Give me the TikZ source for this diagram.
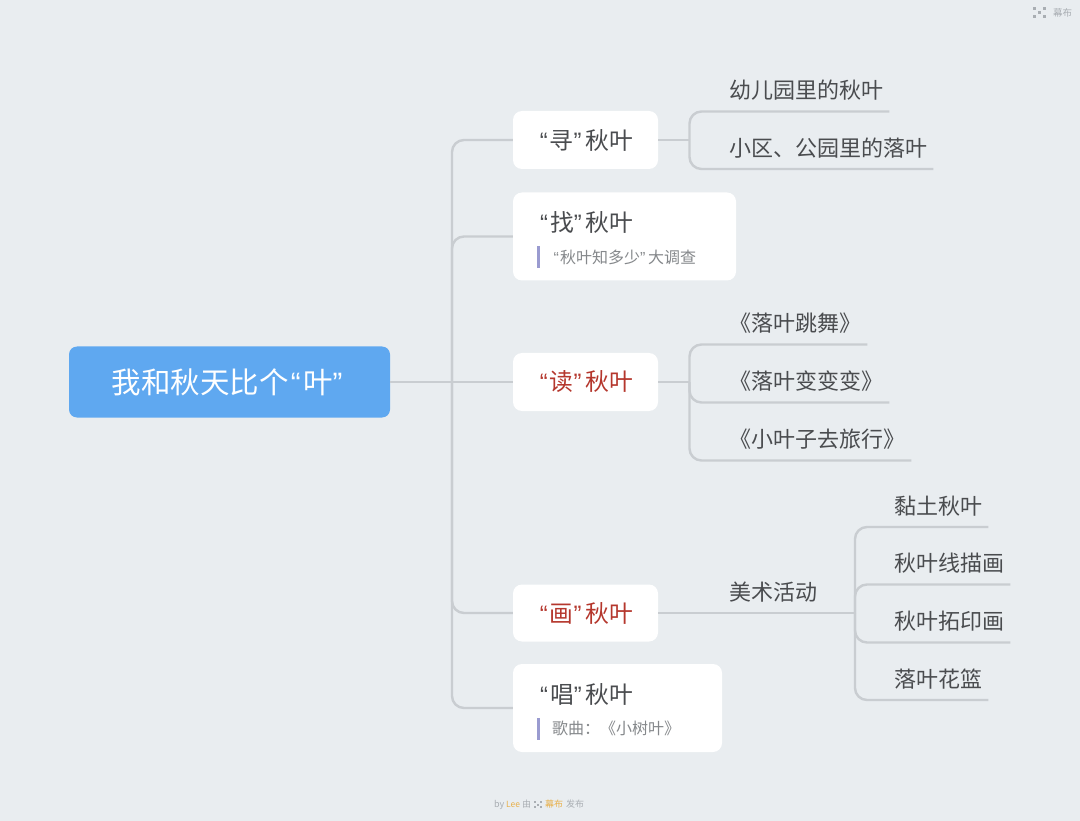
\documentclass[tikz,border=0pt]{standalone}
\usepackage{fontspec}
\setmainfont{Noto Sans CJK SC}
\newfontfamily\mquote{Liberation Sans}
\newcommand{\ml}{\makebox[.5em][c]{\mquote “}}
\newcommand{\mr}{\makebox[.5em][l]{\mquote ”}}
\definecolor{mbg}{HTML}{E9EDF0}
\definecolor{mline}{HTML}{C9CDD1}
\definecolor{mblue}{HTML}{5FA8F0}
\definecolor{mdark}{HTML}{4A4C4F}
\definecolor{mgray}{HTML}{85888B}
\definecolor{mred}{HTML}{B5372D}
\definecolor{mbar}{HTML}{9A9BD0}
\definecolor{mmark}{HTML}{A9AEB3}
\definecolor{mgold}{HTML}{E8B04A}
\begin{document}
\begin{tikzpicture}[x=1pt,y=-1pt,
    link/.style={draw=mline,line width=2.4pt,rounded corners=12pt},
    mroot/.style={fill=mblue,draw=none,rounded corners=8pt,minimum width=321pt,minimum height=71pt,text=white,font=\fontsize{29.5}{34}\selectfont,inner sep=0pt},
    mbox/.style={fill=white,rounded corners=9pt,inner sep=0pt,text=mdark,font=\fontsize{23.8}{28}\selectfont},
    mtitle/.style={anchor=west,inner sep=0pt,text=mdark,font=\fontsize{23.8}{28}\selectfont},
    mnote/.style={anchor=west,inner sep=0pt,text=mgray,font=\fontsize{16}{20}\selectfont},
    mbarnode/.style={fill=mbar,inner sep=0pt,minimum width=3pt,minimum height=22pt},
    mleaf/.style={anchor=south west,inner ysep=11pt,inner xsep=6pt,text=mdark,font=\fontsize{22}{26}\selectfont},
    mmarktext/.style={inner sep=0pt,text=mmark,font=\fontsize{9}{11}\selectfont}]
    \useasboundingbox[fill=mbg] (0,0) rectangle (1080,821);
    % junctions
    \coordinate (jtrunk) at (452,382);
    \coordinate (jxun) at (689.5,140);
    \coordinate (jdu) at (689.5,382);
    \coordinate (jmei) at (855,613);
    % boxes
    \node[mroot] (root) at (229.5,382) {我和秋天比个\ml 叶\mr};
    \node[mbox,minimum width=145pt,minimum height=58pt] (xun) at (585.5,140) {\ml 寻\mr 秋叶};
    \node[mbox,minimum width=223pt,minimum height=88pt] (zhao) at (624.5,236.5) {};
    \node[mbox,minimum width=145pt,minimum height=58pt,text=mred] (du) at (585.5,382) {\ml 读\mr 秋叶};
    \node[mbox,minimum width=145pt,minimum height=57pt,text=mred] (hua) at (585.5,613) {\ml 画\mr 秋叶};
    \node[mbox,minimum width=209pt,minimum height=88pt] (chang) at (617.5,708) {};
    \node[mtitle] (zhaot) at (538,222) {\ml 找\mr 秋叶};
    \node[mtitle] (changt) at (538,694) {\ml 唱\mr 秋叶};
    \node[mbarnode] (zhaob) at (538,257) {};
    \node[mbarnode] (changb) at (538,728.5) {};
    \node[mnote] (zhaon) at (552,257) {\ml 秋叶知多少\mr 大调查};
    \node[mnote] (changn) at (552,728.5) {歌曲：《小树叶》};
    % leaves
    \foreach \mname/\x/\y/\mtext in {
        a1/723/111.5/幼儿园里的秋叶,a2/723/169/小区、公园里的落叶,
        b1/723/344.5/《落叶跳舞》,b2/723/402.5/《落叶变变变》,b3/723/460.5/《小叶子去旅行》,
        c1/888/527/黏土秋叶,c2/888/584.5/秋叶线描画,c3/888/642.5/秋叶拓印画,c4/888/700/落叶花篮}
        \node[mleaf] (\mname) at (\x,\y) {\mtext};
    \node[mleaf] (mei) at (723,613) {美术活动};
    % connectors
    \draw[link] (root.east) -- (du.west);
    \foreach \mto in {xun,zhao,hua,chang} \draw[link] (jtrunk) |- (\mto.west);
    \draw[link] (xun.east) -- (jxun);
    \draw[link] (du.east) -- (jdu);
    \draw[link] (hua.east) -- (jmei);
    \foreach \mto in {a1,a2} \draw[link] (jxun) |- (\mto.south east);
    \foreach \mto in {b1,b2,b3} \draw[link] (jdu) |- (\mto.south east);
    \foreach \mto in {c1,c2,c3,c4} \draw[link] (jmei) |- (\mto.south east);
    % marks
    \foreach \x/\y in {1033/7,1033/15,1043/7,1043/15,1038/11} \fill[mmark] (\x,\y) rectangle ++(3,3);
    \node[mmarktext,anchor=west,font=\fontsize{9.5}{11}\selectfont] (mubu) at (1053,12.5) {幕布};
    \node[mmarktext,anchor=west] (by) at (494,804.5) {by};
    \node[mmarktext,anchor=west,text=mgold,font=\fontsize{8.5}{11}\selectfont] (lee) at (506,804.5) {Lee};
    \node[mmarktext,anchor=west] (you) at (522,804.5) {由};
    \foreach \x/\y in {533.5/801,533.5/806,539.5/801,539.5/806,536.5/803.5} \fill[mmark] (\x,\y) rectangle ++(2,2);
    \node[mmarktext,anchor=west,text=mgold] (mubub) at (545,804.5) {幕布};
    \node[mmarktext,anchor=west] (fabu) at (566,804.5) {发布};
\end{tikzpicture}
\end{document}
